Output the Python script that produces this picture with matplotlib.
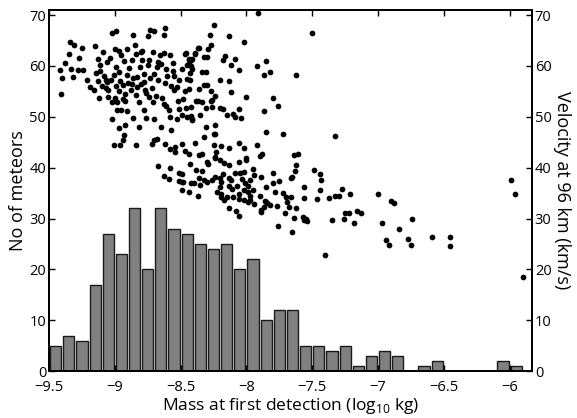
import numpy as np
import matplotlib
matplotlib.use('Agg')
import matplotlib.pyplot as plt

plt.rcParams['font.family'] = ['Open Sans', 'DejaVu Sans']
plt.rcParams['mathtext.fontset'] = 'custom'
plt.rcParams['mathtext.rm'] = 'Open Sans'

# histogram: bin centres (log10 kg) and counts
bin_centres = [-9.45, -9.35, -9.25, -9.15, -9.05, -8.95, -8.85, -8.75, -8.65, -8.55,
               -8.45, -8.35, -8.25, -8.15, -8.05, -7.95, -7.85, -7.75, -7.65, -7.55,
               -7.45, -7.35, -7.25, -7.15, -7.05, -6.95, -6.85, -6.75, -6.65, -6.55,
               -6.45, -6.35, -6.25, -6.15, -6.05, -5.95]
counts = [5, 7, 6, 17, 27, 23, 32, 20, 32, 28,
          27, 25, 24, 25, 20, 22, 10, 12, 12, 5,
          5, 4, 5, 1, 3, 4, 3, 0, 1, 2,
          0, 0, 0, 0, 2, 1]

# scatter: mass (log10 kg) and velocity at 96 km (km/s)
mass = [
    -9.42, -9.40, -9.41, -9.38, -9.35, -9.34, -9.31, -9.33, -9.32, -9.27,
    -9.25, -9.28, -9.24, -9.21, -9.16, -9.15, -9.14, -9.13, -9.13, -9.11,
    -9.12, -9.09, -9.10, -9.08, -9.07, -9.07, -9.06, -9.05, -9.05, -9.04,
    -9.02, -9.00, -8.99, -9.01, -9.03, -9.02, -9.00, -8.98, -8.97, -8.97,
    -8.99, -9.02, -8.98, -8.97, -8.95, -8.96, -8.95, -8.94, -8.93, -8.92,
    -8.91, -8.92, -8.91, -8.90, -8.97, -8.92, -8.93, -8.91, -8.88, -8.87,
    -8.87, -8.86, -8.85, -8.86, -8.84, -8.83, -8.83, -8.82, -8.82, -8.81,
    -8.80, -8.80, -8.79, -8.79, -8.78, -8.77, -8.78, -8.76, -8.75, -8.75,
    -8.73, -8.70, -8.76, -8.74, -8.73, -8.72, -8.71, -8.71, -8.70, -8.70,
    -8.68, -8.67, -8.67, -8.66, -8.65, -8.64, -8.63, -8.62, -8.63, -8.63,
    -8.62, -8.61, -8.61, -8.59, -8.58, -8.58, -8.57, -8.57, -8.56, -8.56,
    -8.55, -8.53, -8.52, -8.51, -8.51, -8.49, -8.49, -8.48, -8.47, -8.45,
    -8.44, -8.44, -8.43, -8.42, -8.41, -8.39, -8.38, -8.37, -8.46, -8.44,
    -8.42, -8.41,
    -9.19, -9.06, -8.94, -8.89, -8.84, -8.78, -8.69, -8.60, -8.53, -8.47,
    -9.11, -8.99, -8.86, -8.74, -8.65, -8.55,
    -7.91, -8.25, -8.28, -8.13, -8.02, -7.50, -8.27, -8.29, -8.36, -8.46,
    -8.39, -8.41, -8.44, -8.32, -8.30, -8.16, -8.18, -8.09, -8.12, -8.45,
    -8.42, -8.06, -7.92, -7.85, -7.82, -7.87, -7.62, -8.34, -8.31, -8.43,
    -8.20, -8.13, -8.32, -8.30, -8.36, -8.27, -8.12, -8.00, -7.80, -8.24,
    -8.26, -8.27, -8.37, -8.34, -7.76, -8.42, -8.31, -8.26, -8.20, -8.18,
    -8.06, -7.87, -8.45, -8.41, -8.35, -8.15, -8.10, -8.09, -8.04, -8.31,
    -8.24, -8.24, -8.32, -7.85, -7.72, -7.33,
    -9.01, -8.96, -8.94, -8.84, -8.72, -8.70, -8.68, -8.62, -8.58, -8.54,
    -8.49, -8.54, -8.47, -8.44, -8.39, -8.36, -8.67, -8.58, -8.43, -8.38,
    -8.63, -8.59, -8.51, -8.49, -8.51, -8.49, -8.48, -8.42, -8.40, -8.49,
    -8.44, -8.37, -8.36,
    -8.25, -8.25, -8.19, -8.13, -8.06, -8.02, -7.92, -8.23, -8.24, -8.34,
    -8.30, -8.29, -8.24, -8.20, -8.17, -8.13, -8.06, -8.00, -8.00, -7.90,
    -7.88, -7.64, -7.61, -7.62, -7.63, -7.49, -7.44, -7.43, -7.33, -7.37,
    -7.44, -7.46, -7.56, -7.56, -7.55, -7.56, -7.35, -7.40, -7.65, -7.66,
    -7.75, -7.80, -7.80, -7.85, -7.78, -7.72, -7.70, -7.69, -7.68, -7.66,
    -7.62, -7.71, -7.64, -7.65, -7.76, -7.82, -7.85, -7.87, -7.89, -7.84,
    -7.86, -7.90, -7.94, -7.89, -7.97, -7.97, -7.99, -7.95, -7.99, -8.01,
    -7.97, -8.03, -8.05, -8.02, -7.95, -7.94, -7.89, -8.02, -8.06, -8.07,
    -8.11, -8.13, -8.13, -8.12, -8.09, -8.10, -8.06, -8.02, -7.99, -8.15,
    -8.19, -8.22, -8.19, -8.20, -8.19, -8.20, -8.18, -8.24, -8.26, -8.30,
    -8.34, -8.32, -8.35, -8.17, -8.13, -8.08, -8.06, -7.77, -7.57, -7.54,
    -7.27, -7.21, -7.30, -7.25, -7.22, -7.16, -7.13, -7.18, -7.26, -7.00,
    -6.90, -6.88, -6.97, -6.74, -6.84, -6.94, -6.92, -6.77, -6.75, -6.59,
    -6.45, -6.45, -5.99, -5.96, -5.90,
]
velocity = [
    59.2, 57.6, 54.4, 60.6, 62.3, 64.8, 64.2, 59.4, 57.8, 61.6,
    63.5, 59.3, 59.3, 57.3, 55.2, 63.9, 58.7, 57.0, 61.4, 59.0,
    53.8, 62.7, 56.0, 58.1, 55.6, 57.2, 60.7, 54.0, 55.3, 61.6,
    66.5, 63.4, 66.9, 58.3, 57.3, 52.9, 53.8, 52.9, 58.9, 63.0,
    56.0, 49.5, 51.3, 55.0, 62.1, 57.0, 51.3, 53.6, 60.9, 53.2,
    51.1, 54.4, 58.3, 56.6, 47.9, 48.3, 46.5, 63.4, 55.2, 56.5,
    61.2, 66.0, 64.2, 49.8, 62.3, 57.9, 55.8, 48.0, 52.9, 59.8,
    56.5, 62.7, 63.0, 61.1, 58.5, 55.3, 51.3, 49.8, 60.1, 65.8,
    67.0, 66.8, 54.7, 53.9, 57.7, 55.7, 62.7, 52.9, 49.6, 58.5,
    59.8, 60.7, 57.2, 62.1, 48.0, 53.8, 52.6, 67.5, 66.0, 62.6,
    56.6, 59.4, 52.1, 51.3, 62.1, 50.0, 47.5, 56.0, 60.6, 59.1,
    55.2, 49.6, 53.1, 57.2, 51.6, 59.4, 50.3, 53.6, 62.4, 57.5,
    61.4, 60.4, 58.6, 50.1, 49.6, 62.5, 53.2, 63.5, 51.7, 55.5,
    61.2, 59.4,
    55.9, 56.8, 56.2, 59.6, 54.2, 56.9, 54.1, 58.0, 55.9, 55.1,
    60.1, 59.8, 57.6, 61.2, 60.4, 58.1,
    70.4, 68.1, 66.0, 65.8, 64.7, 66.4, 64.2, 63.4, 63.6, 62.6,
    62.4, 61.4, 61.2, 61.7, 61.7, 61.9, 61.1, 61.4, 60.2, 60.1,
    59.9, 59.3, 59.9, 60.9, 58.8, 58.3, 58.3, 58.8, 58.8, 57.2,
    57.3, 57.0, 56.3, 56.3, 55.4, 55.0, 54.9, 54.0, 53.8, 54.1,
    53.4, 53.2, 53.2, 52.9, 52.2, 51.9, 51.8, 51.9, 51.8, 51.5,
    51.5, 51.1, 50.0, 49.3, 50.4, 50.4, 50.5, 50.0, 49.8, 48.1,
    48.3, 46.7, 46.0, 47.0, 46.6, 46.2,
    44.5, 44.4, 45.4, 44.4, 44.7, 45.4, 45.7, 44.6, 43.6, 44.1,
    44.7, 43.1, 43.2, 42.6, 44.9, 42.5, 40.4, 40.0, 40.8, 39.5,
    38.3, 37.7, 38.9, 38.7, 37.4, 37.1, 37.2, 37.0, 36.9, 35.7,
    35.3, 34.5, 37.9,
    46.6, 44.4, 44.2, 43.9, 44.9, 43.9, 44.4, 43.1, 42.1, 42.6,
    41.1, 40.8, 41.9, 41.5, 40.9, 40.6, 41.1, 42.0, 41.5, 42.3,
    42.6, 42.5, 42.6, 40.5, 39.3, 39.5, 38.7, 37.5, 34.4, 34.0,
    35.6, 33.8, 36.2, 34.0, 30.0, 29.8, 29.8, 22.8, 38.1, 37.9,
    37.4, 38.9, 36.9, 36.2, 35.3, 35.1, 34.3, 33.2, 32.2, 34.2,
    32.0, 31.1, 30.2, 27.4, 28.5, 32.6, 33.3, 32.3, 31.7, 33.0,
    33.5, 34.4, 32.8, 31.3, 33.6, 34.4, 35.3, 35.6, 36.4, 36.9,
    37.5, 37.7, 38.9, 39.2, 39.8, 38.5, 38.2, 35.6, 34.9, 36.4,
    35.9, 36.4, 37.9, 37.5, 38.9, 34.2, 33.8, 33.6, 33.3, 34.3,
    34.3, 35.3, 34.8, 36.2, 37.2, 37.9, 38.7, 38.2, 37.5, 37.2,
    39.4, 37.5, 36.7, 33.6, 32.0, 31.5, 30.5, 32.5, 30.3, 29.5,
    35.9, 34.9, 34.4, 31.1, 31.0, 31.5, 31.0, 29.2, 30.0, 34.9,
    33.4, 33.1, 29.1, 29.9, 27.9, 25.8, 24.9, 25.9, 24.8, 26.4,
    26.3, 24.6, 37.5, 34.9, 18.6,
]

xtick_vals = [-9.5, -9, -8.5, -8, -7.5, -7, -6.5, -6]
xtick_labels = ['\u22129.5', '\u22129', '\u22128.5', '\u22128', '\u22127.5', '\u22127', '\u22126.5', '\u22126']
ytick_vals = [0, 10, 20, 30, 40, 50, 60, 70]

fig = plt.figure(figsize=(5.77, 4.18), dpi=100)
ax1 = fig.add_axes([0.085, 0.112, 0.837, 0.864])
ax2 = ax1.twinx()

ax1.bar(bin_centres, counts, width=0.085, color='#808080', edgecolor='#1a1a1a', linewidth=1.0)
ax2.scatter(mass, velocity, s=17, color='black', linewidths=0)

ax1.set_xlim(-9.5, -5.83)
ax1.set_ylim(0, 71)
ax2.set_ylim(0, 71)

ax1.set_xticks(xtick_vals)
ax1.set_xticklabels(xtick_labels)
ax1.set_yticks(ytick_vals)
ax2.set_yticks(ytick_vals)

ax1.tick_params(direction='in', top=True, right=False, length=4, width=1, labelsize=10.5, pad=2)
ax1.tick_params(axis='x', pad=6.5)
ax2.tick_params(direction='in', length=4, width=1, labelsize=10.5, pad=2)

for ax in (ax1, ax2):
    for sp in ax.spines.values():
        sp.set_linewidth(1.3)

ax1.set_xlabel('Mass at first detection (log$_{\\mathregular{10}}$ kg)', fontsize=12.5, labelpad=0.5)
ax1.set_ylabel('No of meteors', fontsize=13, labelpad=2)
ax2.set_ylabel('Velocity at 96 km (km/s)', fontsize=13, rotation=270, labelpad=14)

fig.savefig('out.png', dpi=100)
